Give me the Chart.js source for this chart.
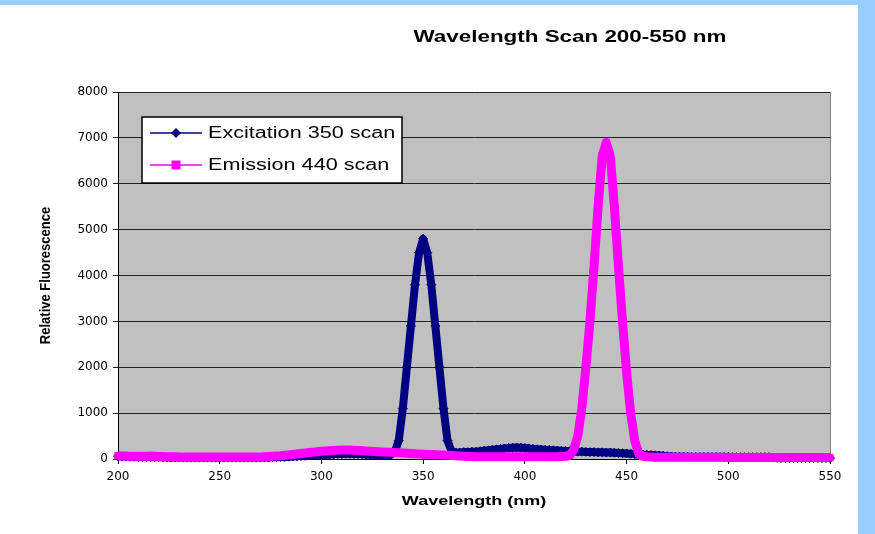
<!DOCTYPE html>
<html>
<head>
<meta charset="utf-8">
<script src="https://cdn.jsdelivr.net/npm/chart.js@4.4.1/dist/chart.umd.min.js"></script>
<style>
  html, body { margin: 0; padding: 0; background: #99ccff; width: 875px; height: 534px; overflow: hidden; }
  #panel { position: absolute; left: 0; top: 5px; width: 858px; height: 529px; background: #ffffff; }
  canvas { display: block; }
</style>
</head>
<body>
<div id="panel"><canvas id="grafico" width="858" height="529"></canvas></div>
<script>
// wavelength (nm), 2 nm steps
const wavelengths = [
  200,202,204,206,208,210,212,214,216,218,
  220,222,224,226,228,230,232,234,236,238,
  240,242,244,246,248,250,252,254,256,258,
  260,262,264,266,268,270,272,274,276,278,
  280,282,284,286,288,290,292,294,296,298,
  300,302,304,306,308,310,312,314,316,318,
  320,322,324,326,328,330,332,334,336,338,
  340,342,344,346,348,350,352,354,356,358,
  360,362,364,366,368,370,372,374,376,378,
  380,382,384,386,388,390,392,394,396,398,
  400,402,404,406,408,410,412,414,416,418,
  420,422,424,426,428,430,432,434,436,438,
  440,442,444,446,448,450,452,454,456,458,
  460,462,464,466,468,470,472,474,476,478,
  480,482,484,486,488,490,492,494,496,498,
  500,502,504,506,508,510,512,514,516,518,
  520,522,524,526,528,530,532,534,536,538,
  540,542,544,546,548,550
];

const excitation350 = [
  60,55,55,50,50,45,45,45,40,40,
  40,40,35,35,35,35,30,30,30,30,
  30,30,30,30,30,30,30,30,30,30,
  30,30,30,30,30,30,35,35,40,40,
  45,45,50,55,60,65,70,75,80,85,
  90,95,100,105,110,110,115,115,110,110,
  105,100,95,90,85,80,80,90,150,400,
  1100,2000,2900,3800,4500,4800,4500,3800,2900,2000,
  1100,400,160,140,140,150,150,160,160,170,
  180,190,200,210,220,230,240,245,250,245,
  240,230,220,210,205,200,195,190,185,180,
  175,170,165,160,160,155,150,150,145,145,
  140,140,135,130,125,120,115,110,100,95,
  90,85,80,75,70,60,55,50,50,50,
  50,45,45,45,45,45,45,45,45,45,
  45,40,40,40,40,40,40,40,40,40,
  40,30,25,20,20,20,20,20,20,20,
  20,20,20,20,20,20
];

const emission440 = [
  70,65,65,60,60,60,60,60,65,60,
  55,55,50,50,50,45,45,45,45,45,
  45,45,45,45,45,45,45,45,45,45,
  45,45,45,45,45,45,50,55,60,65,
  70,80,90,100,110,120,130,140,150,160,
  170,175,180,185,190,195,195,195,190,185,
  180,175,170,165,160,155,150,145,140,135,
  130,125,120,115,110,105,100,100,95,90,
  85,80,75,70,65,60,55,55,50,50,
  50,50,50,50,50,50,50,50,50,50,
  50,50,50,50,50,50,50,50,50,55,
  60,80,200,500,1100,2000,3000,4200,5500,6600,
  6900,6600,5500,4200,3000,1900,1000,400,120,60,
  50,45,40,40,40,40,40,40,40,40,
  40,40,40,40,40,40,40,40,40,40,
  35,35,35,35,35,35,35,35,35,35,
  35,35,35,35,30,30,30,30,30,30,
  30,30,30,30,30,30
];

const xTicks = [200, 250, 300, 350, 400, 450, 500, 550];
const yTicks = [0, 1000, 2000, 3000, 4000, 5000, 6000, 7000, 8000];

const titulo = "Wavelength Scan 200-550 nm";
const tituloX = "Wavelength (nm)";
const tituloY = "Relative Fluorescence";
const nomes = ["Excitation 350 scan", "Emission 440 scan"];

const cores = ["#000080", "#ff00ff"];

function pares(valores) {
  return wavelengths.map((w, i) => ({ x: w, y: valores[i] }));
}

// fundo cinza da area do grafico
const fundo = {
  id: "fundo",
  beforeDraw(chart) {
    const { ctx, chartArea: a } = chart;
    ctx.save();
    ctx.fillStyle = "#c0c0c0";
    ctx.fillRect(a.left, a.top, a.right - a.left, a.bottom - a.top);
    ctx.strokeStyle = "#808080";
    ctx.lineWidth = 1;
    ctx.beginPath();
    ctx.moveTo(a.left, a.top + 0.5);
    ctx.lineTo(a.right + 0.5, a.top + 0.5);
    ctx.lineTo(a.right + 0.5, a.bottom);
    ctx.stroke();
    ctx.restore();
  }
};

function marcador(ctx, tipo, x, y, r, cor) {
  ctx.fillStyle = cor;
  ctx.beginPath();
  if (tipo === "rectRot") {
    ctx.moveTo(x, y - r);
    ctx.lineTo(x + r, y);
    ctx.lineTo(x, y + r);
    ctx.lineTo(x - r, y);
  } else {
    ctx.rect(x - r, y - r, 2 * r, 2 * r);
  }
  ctx.closePath();
  ctx.fill();
}

// textos e legenda, com o esticamento horizontal do original
const textos = {
  id: "textos",
  afterDraw(chart) {
    const { ctx, chartArea: a } = chart;
    ctx.save();
    ctx.fillStyle = "#000";
    ctx.textBaseline = "middle";
    ctx.textAlign = "center";

    ctx.save();
    ctx.translate(570, 33);
    ctx.scale(1.4, 1);
    ctx.font = "bold 16px 'Liberation Sans', Arial, sans-serif";
    ctx.fillText(titulo, 0, 0);
    ctx.restore();

    ctx.save();
    ctx.translate((a.left + a.right) / 2, 497);
    ctx.scale(1.5, 1);
    ctx.font = "bold 12px 'Liberation Sans', Arial, sans-serif";
    ctx.fillText(tituloX, 0, 0);
    ctx.restore();

    ctx.save();
    ctx.translate(46, (a.top + a.bottom) / 2);
    ctx.scale(1.15, 1);
    ctx.rotate(-Math.PI / 2);
    ctx.font = "bold 13px 'Liberation Sans', Arial, sans-serif";
    ctx.fillText(tituloY, 0, 0);
    ctx.restore();

    // legenda
    const lx = a.left + 24, ly = a.top + 25, lw = 260, lh = 66;
    ctx.fillStyle = "#fff";
    ctx.fillRect(lx, ly, lw, lh);
    ctx.strokeStyle = "#000";
    ctx.lineWidth = 1.5;
    ctx.strokeRect(lx, ly, lw, lh);

    const tipos = ["rectRot", "rect"];
    nomes.forEach((nome, i) => {
      const cy = ly + 16 + i * 32;
      ctx.strokeStyle = cores[i];
      ctx.lineWidth = 1.5;
      ctx.beginPath();
      ctx.moveTo(lx + 8, cy);
      ctx.lineTo(lx + 60, cy);
      ctx.stroke();
      marcador(ctx, tipos[i], lx + 34, cy, i === 0 ? 5 : 4.5, cores[i]);
      ctx.save();
      ctx.translate(lx + 66, cy);
      ctx.scale(1.35, 1);
      ctx.fillStyle = "#000";
      ctx.textAlign = "left";
      ctx.font = "16px 'Liberation Sans', Arial, sans-serif";
      ctx.fillText(nome, 0, 1);
      ctx.restore();
    });
    ctx.restore();
  }
};

const ctx = document.getElementById("grafico").getContext("2d");

new Chart(ctx, {
  type: "line",
  data: {
    datasets: [
      {
        label: nomes[0],
        data: pares(excitation350),
        borderColor: cores[0],
        backgroundColor: cores[0],
        borderWidth: 8,
        borderJoinStyle: "round",
        pointStyle: "rectRot",
        pointRadius: 4.5,
        pointBorderWidth: 1,
        pointBorderColor: cores[0],
        pointBackgroundColor: cores[0],
        tension: 0,
        clip: false,
        order: 1
      },
      {
        label: nomes[1],
        data: pares(emission440),
        borderColor: cores[1],
        backgroundColor: cores[1],
        borderWidth: 9,
        borderJoinStyle: "round",
        pointStyle: "rect",
        pointRadius: 4.5,
        pointBorderWidth: 1,
        pointBorderColor: cores[1],
        pointBackgroundColor: cores[1],
        tension: 0,
        clip: false,
        order: 0
      }
    ]
  },
  options: {
    responsive: false,
    animation: false,
    events: [],
    layout: { padding: { left: 0, top: 87, right: 28, bottom: 0 } },
    plugins: {
      legend: { display: false },
      title: { display: false },
      tooltip: { enabled: false }
    },
    scales: {
      x: {
        type: "linear",
        min: 200,
        max: 550,
        afterFit: s => { s.height = 75; },
        afterBuildTicks: s => { s.ticks = xTicks.map(v => ({ value: v })); },
        ticks: {
          color: "#000",
          padding: 6,
          maxRotation: 0,
          callback: v => String(v),
          font: { family: "'DejaVu Sans', sans-serif", size: 12 }
        },
        grid: { drawOnChartArea: false, drawTicks: true, tickLength: 5, color: "#000" },
        border: { color: "#000", width: 1 }
      },
      y: {
        min: 0,
        max: 8000,
        afterFit: s => { s.width = 118; },
        afterBuildTicks: s => { s.ticks = yTicks.map(v => ({ value: v })); },
        ticks: {
          color: "#000",
          padding: 5,
          callback: v => String(v),
          font: { family: "'DejaVu Sans', sans-serif", size: 12 }
        },
        grid: { color: "#222", lineWidth: 1, tickLength: 5 },
        border: { color: "#000", width: 1 }
      }
    }
  },
  plugins: [fundo, textos]
});
</script>
</body>
</html>
